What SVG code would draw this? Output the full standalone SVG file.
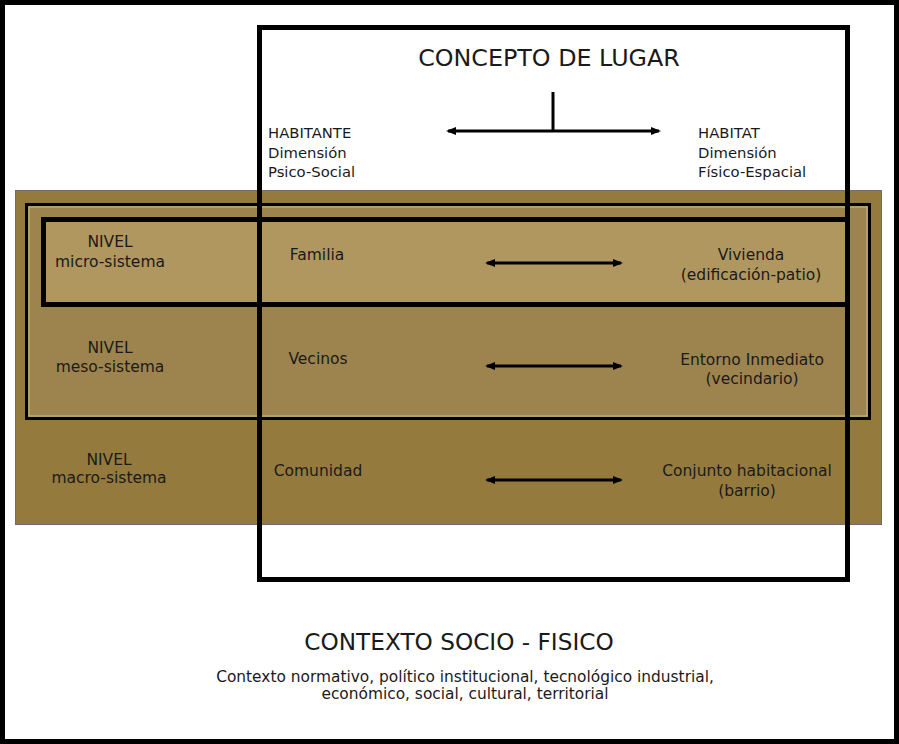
<svg xmlns="http://www.w3.org/2000/svg" width="899" height="744" viewBox="0 0 899 744">
<style>
text{font-family:"DejaVu Sans","Liberation Sans",sans-serif;fill:#1a1a1a}
.t{font-size:15.5px}
.h{font-size:14.8px}
.b{font-size:15.4px}
.c{text-anchor:middle}
.arr{stroke:#000;stroke-width:3;fill:none;marker-start:url(#ah);marker-end:url(#ah)}
</style>
<defs>
<marker id="ah" viewBox="0 0 10 10" refX="8" refY="5" markerWidth="3.4" markerHeight="3.4" orient="auto-start-reverse" markerUnits="strokeWidth">
<path d="M0,1 L10,5 L0,9 Z" fill="#000"/>
</marker>
</defs>
<rect x="0" y="0" width="899" height="744" fill="#fff"/>
<g id="frame"><rect x="2.5" y="2.5" width="894" height="739" fill="none" stroke="#000" stroke-width="5"/></g>
<g id="band-macro"><rect x="15.5" y="190.5" width="866" height="334" fill="#957a3e" stroke="#6e6e6e" stroke-width="1"/></g>
<g id="band-meso">
<rect x="26.5" y="204.5" width="843" height="214" fill="#9d844e" stroke="#000" stroke-width="3"/>
<rect x="29" y="207" width="838" height="209" fill="none" stroke="#c9b88c" stroke-width="1"/>
</g>
<g id="band-micro"><rect x="43.5" y="219.5" width="804" height="85" fill="#b0975f" stroke="#000" stroke-width="5"/></g>
<g id="concepto"><rect x="259.5" y="27.5" width="588" height="552" fill="none" stroke="#000" stroke-width="5"/></g>
<g id="title"><text x="549" y="66" class="c" font-size="23.8">CONCEPTO DE LUGAR</text></g>
<g id="habitante"><text class="h" x="268" y="138">HABITANTE</text><text class="h" x="268" y="158">Dimensión</text><text class="h" x="268" y="177">Psico-Social</text></g>
<g id="habitat"><text class="h" x="698" y="138">HABITAT</text><text class="h" x="698" y="158">Dimensión</text><text class="h" x="698" y="177">Físico-Espacial</text></g>
<g id="lvl-micro"><text class="t c" x="110" y="247">NIVEL</text><text class="t c" x="110" y="267">micro-sistema</text></g>
<g id="familia"><text class="t c" x="317" y="260">Familia</text></g>
<g id="vivienda"><text class="t c" x="751" y="260">Vivienda</text><text class="t c" x="751" y="280">(edificación-patio)</text></g>
<g id="lvl-meso"><text class="t c" x="110" y="353">NIVEL</text><text class="t c" x="110" y="372">meso-sistema</text></g>
<g id="vecinos"><text class="t c" x="318" y="364">Vecinos</text></g>
<g id="entorno"><text class="t c" x="752" y="365">Entorno Inmediato</text><text class="t c" x="752" y="384">(vecindario)</text></g>
<g id="lvl-macro"><text class="t c" x="109" y="465">NIVEL</text><text class="t c" x="109" y="483">macro-sistema</text></g>
<g id="comunidad"><text class="t c" x="318" y="476">Comunidad</text></g>
<g id="conjunto"><text class="t c" x="747" y="476">Conjunto habitacional</text><text class="t c" x="747" y="496">(barrio)</text></g>
<g id="contexto"><text class="c" x="459" y="650" font-size="23.2">CONTEXTO SOCIO - FISICO</text><text class="b c" x="465" y="682">Contexto normativo, político institucional, tecnológico industrial,</text><text class="b c" x="465" y="699">económico, social, cultural, territorial</text></g>
<g id="connectors">
<line x1="553" y1="92" x2="553" y2="131" stroke="#000" stroke-width="3"/>
<line class="arr" x1="448" y1="131" x2="659" y2="131"/>
<line class="arr" x1="487" y1="263" x2="621" y2="263"/>
<line class="arr" x1="487" y1="366" x2="621" y2="366"/>
<line class="arr" x1="487" y1="480" x2="621" y2="480"/>
</g>
</svg>
